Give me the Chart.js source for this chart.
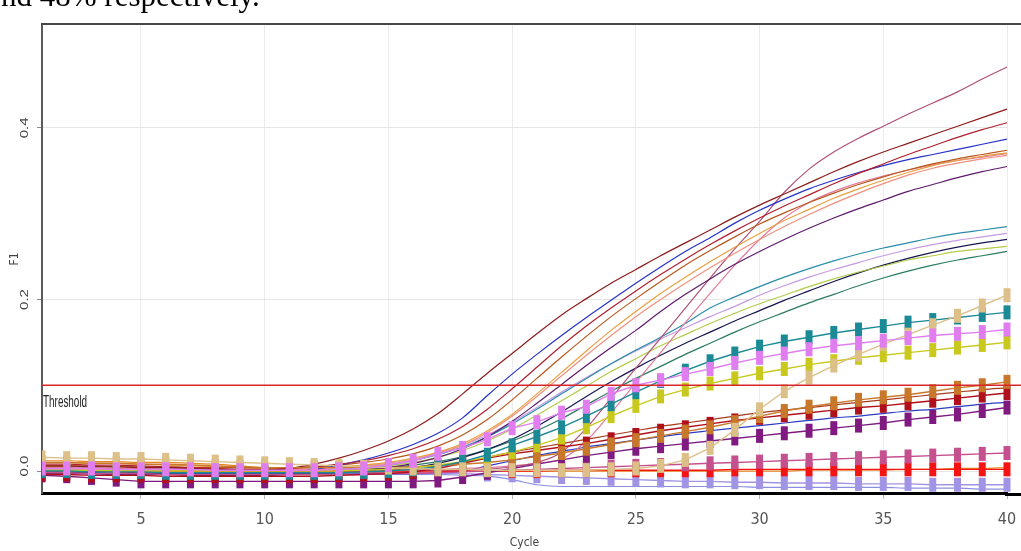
<!DOCTYPE html>
<html>
<head>
<meta charset="utf-8">
<script src="https://cdn.jsdelivr.net/npm/chart.js@4.4.0/dist/chart.umd.min.js"></script>
<style>
  html, body { margin: 0; padding: 0; background: #fff; }
  body { width: 1021px; height: 551px; overflow: hidden; position: relative; }
  .wrap { position: absolute; left: 0; top: 0; width: 1021px; height: 551px; }
  .caption {
    position: absolute; left: 1px; top: -20px;
    font: 31px/31px "Liberation Serif", "Times New Roman", serif;
    color: #000; white-space: nowrap;
  }
</style>
</head>
<body>
<div class="wrap"><canvas id="pcr" width="1021" height="551"></canvas></div>
<div class="caption">nd 48% respectively.</div>
<script>
"use strict";

//////////////////////////////
// Data
const cycles = [1,2,3,4,5,6,7,8,9,10,11,12,13,14,15,16,17,18,19,20,21,22,23,24,25,26,27,28,29,30,31,32,33,34,35,36,37,38,39,40];
const xTicks = [5, 10, 15, 20, 25, 30, 35, 40];
const yTicks = [0, 0.2, 0.4];
const threshold = 0.1;

// marker series (one value per cycle)
const tealMarks = [0.0,0.0,-0.001,-0.001,-0.001,-0.002,-0.002,-0.002,-0.002,-0.002,-0.002,-0.002,-0.002,-0.001,0.0,0.002,0.005,0.011,0.019,0.03,0.04,0.051,0.064,0.078,0.092,0.105,0.117,0.128,0.137,0.145,0.151,0.156,0.161,0.165,0.169,0.173,0.176,0.179,0.182,0.185];
const violetMarks = [0.003,0.003,0.003,0.002,0.002,0.002,0.002,0.001,0.001,0.001,0.001,0.001,0.002,0.003,0.007,0.012,0.02,0.027,0.037,0.05,0.057,0.068,0.075,0.09,0.1,0.106,0.113,0.119,0.126,0.132,0.137,0.142,0.146,0.149,0.152,0.155,0.158,0.16,0.162,0.165];
const yellowMarks = [0.001,0.001,0.001,0.0,0.0,0.0,0.0,0.0,0.0,0.0,0.0,0.0,0.0,0.001,0.002,0.004,0.007,0.011,0.016,0.022,0.03,0.039,0.051,0.064,0.076,0.087,0.095,0.102,0.108,0.114,0.119,0.124,0.128,0.132,0.135,0.138,0.141,0.144,0.147,0.15];
const tanMarks = [0.016,0.015,0.015,0.014,0.014,0.013,0.012,0.011,0.01,0.009,0.008,0.007,0.006,0.005,0.004,0.003,0.002,0.002,0.001,0.001,0.001,0.001,0.001,0.002,0.003,0.006,0.013,0.027,0.048,0.072,0.093,0.109,0.123,0.136,0.148,0.159,0.17,0.181,0.193,0.205];
const darkRedMarks = [-0.004,-0.004,-0.005,-0.005,-0.005,-0.006,-0.006,-0.006,-0.006,-0.006,-0.006,-0.006,-0.005,-0.004,-0.003,-0.001,0.003,0.009,0.015,0.02,0.024,0.028,0.032,0.037,0.042,0.047,0.051,0.055,0.059,0.062,0.065,0.068,0.071,0.074,0.076,0.079,0.082,0.085,0.088,0.091];
const orangeMarks = [0.01,0.01,0.009,0.009,0.008,0.008,0.007,0.006,0.005,0.004,0.004,0.004,0.004,0.004,0.004,0.005,0.006,0.008,0.01,0.013,0.017,0.021,0.026,0.031,0.036,0.041,0.046,0.051,0.057,0.064,0.07,0.075,0.079,0.083,0.086,0.089,0.093,0.097,0.1,0.104];
const purpleMarks = [-0.005,-0.006,-0.008,-0.01,-0.012,-0.012,-0.012,-0.012,-0.012,-0.012,-0.012,-0.012,-0.012,-0.012,-0.012,-0.012,-0.011,-0.007,-0.002,0.003,0.008,0.013,0.018,0.022,0.026,0.029,0.032,0.035,0.038,0.041,0.044,0.047,0.05,0.053,0.056,0.06,0.063,0.066,0.07,0.074];
const mauveMarks = [-0.002,-0.002,-0.003,-0.003,-0.003,-0.004,-0.004,-0.004,-0.004,-0.004,-0.004,-0.004,-0.004,-0.004,-0.003,-0.003,-0.002,-0.001,0.0,0.001,0.002,0.003,0.004,0.005,0.006,0.007,0.008,0.009,0.01,0.011,0.012,0.013,0.014,0.015,0.016,0.017,0.018,0.019,0.02,0.021];
const redMarks = [0.0,0.0,0.0,-0.001,-0.001,-0.001,-0.001,-0.001,-0.001,-0.001,-0.001,-0.001,-0.001,-0.001,-0.001,-0.001,-0.001,0.0,0.0,0.0,0.0,0.001,0.001,0.001,0.001,0.001,0.001,0.001,0.002,0.002,0.002,0.002,0.002,0.002,0.002,0.002,0.002,0.002,0.002,0.002];
const lavenderMarks = [0.001,0.001,0.0,0.0,0.0,0.0,-0.001,-0.001,-0.001,-0.001,-0.001,-0.001,-0.002,-0.002,-0.002,-0.002,-0.003,-0.003,-0.004,-0.005,-0.006,-0.007,-0.008,-0.009,-0.01,-0.011,-0.012,-0.012,-0.013,-0.013,-0.014,-0.014,-0.014,-0.015,-0.015,-0.015,-0.016,-0.016,-0.016,-0.016];

// plain curves (one value per cycle)
const curveA = [0.006,0.006,0.005,0.005,0.004,0.004,0.003,0.002,0.001,0.001,0.003,0.008,0.015,0.024,0.035,0.049,0.067,0.09,0.114,0.137,0.16,0.182,0.201,0.219,0.235,0.251,0.266,0.281,0.296,0.31,0.323,0.336,0.349,0.361,0.372,0.382,0.392,0.402,0.412,0.422];
const curveB = [0.0,0.0,-0.001,-0.001,-0.002,-0.002,-0.003,-0.004,-0.004,-0.004,-0.002,0.002,0.007,0.013,0.021,0.031,0.044,0.062,0.088,0.113,0.136,0.158,0.179,0.199,0.219,0.238,0.256,0.272,0.289,0.304,0.317,0.329,0.339,0.348,0.356,0.363,0.369,0.375,0.381,0.387];
const curveC = [0.008,0.008,0.007,0.007,0.006,0.005,0.004,0.003,0.002,0.002,0.003,0.005,0.008,0.012,0.018,0.026,0.037,0.052,0.072,0.096,0.121,0.146,0.169,0.19,0.21,0.229,0.247,0.264,0.28,0.295,0.309,0.322,0.335,0.347,0.358,0.369,0.379,0.389,0.398,0.406];
const curveD = [0.006,0.006,0.006,0.005,0.005,0.005,0.004,0.004,0.004,0.004,0.004,0.005,0.007,0.01,0.014,0.02,0.029,0.042,0.06,0.083,0.108,0.133,0.157,0.18,0.201,0.221,0.24,0.257,0.273,0.288,0.301,0.313,0.324,0.334,0.343,0.351,0.358,0.364,0.369,0.374];
const curveE = [0.002,0.002,0.002,0.001,0.001,0.001,0.0,0.0,0.0,0.0,0.001,0.002,0.003,0.005,0.008,0.013,0.02,0.03,0.045,0.064,0.087,0.111,0.135,0.158,0.18,0.2,0.219,0.237,0.254,0.27,0.285,0.299,0.312,0.324,0.335,0.345,0.353,0.359,0.364,0.368];
const curveF = [0.01,0.01,0.009,0.009,0.008,0.007,0.006,0.005,0.004,0.003,0.003,0.004,0.005,0.007,0.01,0.015,0.022,0.032,0.047,0.066,0.09,0.115,0.14,0.164,0.186,0.207,0.226,0.244,0.261,0.277,0.292,0.305,0.318,0.329,0.339,0.348,0.356,0.362,0.367,0.371];
const curveG = [-0.003,-0.003,-0.003,-0.004,-0.004,-0.004,-0.005,-0.005,-0.005,-0.005,-0.004,-0.003,-0.002,0.0,0.004,0.009,0.016,0.026,0.04,0.058,0.079,0.101,0.123,0.144,0.164,0.186,0.206,0.224,0.241,0.256,0.27,0.283,0.295,0.306,0.316,0.326,0.334,0.342,0.349,0.355];
const curveH = [0.002,0.002,0.002,0.001,0.001,0.001,0.0,0.0,0.0,0.0,0.0,0.0,0.0,0.0,0.0,0.0,0.001,0.001,0.002,0.005,0.01,0.022,0.05,0.085,0.12,0.155,0.19,0.225,0.259,0.291,0.325,0.352,0.372,0.388,0.402,0.416,0.429,0.442,0.457,0.471];
const curveI = [0.004,0.004,0.003,0.003,0.003,0.002,0.002,0.001,0.001,0.001,0.001,0.001,0.001,0.001,0.001,0.002,0.002,0.003,0.004,0.006,0.009,0.014,0.035,0.068,0.103,0.138,0.173,0.207,0.24,0.27,0.295,0.313,0.326,0.336,0.344,0.351,0.357,0.362,0.366,0.37];
const curveJ = [0.003,0.003,0.002,0.002,0.002,0.001,0.001,0.0,0.0,0.0,0.0,0.001,0.002,0.004,0.007,0.012,0.019,0.028,0.04,0.055,0.072,0.09,0.108,0.125,0.141,0.156,0.172,0.19,0.203,0.215,0.226,0.236,0.245,0.253,0.26,0.266,0.272,0.277,0.281,0.285];
const curveK = [0.004,0.004,0.004,0.003,0.003,0.003,0.002,0.002,0.002,0.002,0.002,0.003,0.004,0.006,0.009,0.014,0.021,0.03,0.042,0.057,0.074,0.092,0.109,0.125,0.14,0.154,0.167,0.18,0.192,0.205,0.216,0.226,0.235,0.243,0.251,0.258,0.264,0.269,0.273,0.277];
const curveL = [0.001,0.001,0.001,0.001,0.0,0.0,0.0,0.0,0.0,0.0,0.0,0.001,0.002,0.003,0.006,0.01,0.016,0.024,0.035,0.049,0.065,0.082,0.099,0.116,0.131,0.146,0.159,0.172,0.184,0.195,0.205,0.215,0.224,0.232,0.239,0.246,0.251,0.256,0.259,0.262];
const curveM = [-0.002,-0.002,-0.002,-0.003,-0.003,-0.003,-0.003,-0.004,-0.004,-0.004,-0.004,-0.003,-0.002,-0.001,0.001,0.004,0.009,0.016,0.025,0.037,0.052,0.069,0.087,0.104,0.12,0.135,0.149,0.162,0.175,0.187,0.199,0.21,0.221,0.231,0.24,0.248,0.255,0.261,0.266,0.27];
const curveN = [0.001,0.001,0.001,0.0,0.0,0.0,0.0,0.0,0.0,0.0,0.0,0.0,0.001,0.002,0.004,0.007,0.011,0.017,0.025,0.035,0.047,0.061,0.077,0.093,0.108,0.122,0.136,0.149,0.162,0.174,0.185,0.196,0.206,0.216,0.225,0.233,0.24,0.246,0.251,0.256];
const lowBlue = [-0.002,-0.002,-0.003,-0.003,-0.003,-0.003,-0.003,-0.003,-0.003,-0.003,-0.003,-0.003,-0.003,-0.003,-0.003,-0.003,-0.002,0.0,0.006,0.012,0.018,0.023,0.028,0.032,0.036,0.04,0.044,0.047,0.05,0.053,0.056,0.059,0.062,0.064,0.067,0.07,0.072,0.075,0.078,0.08];
const lowBrown = [0.005,0.005,0.005,0.005,0.004,0.004,0.004,0.004,0.004,0.004,0.004,0.004,0.004,0.004,0.004,0.005,0.006,0.01,0.016,0.022,0.027,0.032,0.037,0.042,0.047,0.052,0.056,0.06,0.064,0.068,0.071,0.074,0.077,0.08,0.083,0.086,0.089,0.092,0.095,0.097];
const bottomBlue = [-0.003,-0.003,-0.003,-0.003,-0.003,-0.003,-0.003,-0.004,-0.004,-0.004,-0.004,-0.004,-0.004,-0.004,-0.004,-0.004,-0.004,-0.005,-0.006,-0.01,-0.016,-0.018,-0.018,-0.018,-0.018,-0.018,-0.018,-0.018,-0.018,-0.019,-0.019,-0.019,-0.019,-0.019,-0.019,-0.02,-0.02,-0.02,-0.021,-0.021];
const bottomOrange = [0.012,0.012,0.011,0.011,0.01,0.01,0.009,0.008,0.006,0.004,0.003,0.002,0.002,0.001,0.001,0.001,0.001,0.0,0.0,0.0,0.0,0.0,0.0,0.0,0.0,0.0,0.0,0.0,0.0,0.0,0.0,0.001,0.001,0.001,0.001,0.002,0.002,0.003,0.003,0.004];

//////////////////////////////
// Styles
// first in list = drawn on top
const markerSeries = [
  [violetMarks, "#e07ef0"],
  [tanMarks, "#dcc088"],
  [tealMarks, "#1c8a96"],
  [yellowMarks, "#c9c81e"],
  [orangeMarks, "#c8782a"],
  [darkRedMarks, "#b0101c"],
  [purpleMarks, "#7e1a80"],
  [mauveMarks, "#c4508e"],
  [redMarks, "#f51414"],
  [lavenderMarks, "#a294e4"],
];

const lineSeries = [
  [curveA, "#8c1c1c"],
  [curveC, "#b01f2e"],
  [curveB, "#2632c8"],
  [curveD, "#b8561c"],
  [curveF, "#e8a040"],
  [curveE, "#f0907e"],
  [curveG, "#5e1a6c"],
  [curveH, "#b05078"],
  [curveI, "#e27a9a"],
  [curveJ, "#2a8ca8"],
  [curveK, "#c69ae2"],
  [curveL, "#b4cc4a"],
  [curveM, "#16164e"],
  [curveN, "#2a7c5e"],
  [lowBlue, "#2c3cc4"],
  [lowBrown, "#a83a1c"],
  [bottomBlue, "#8a8ee0"],
  [bottomOrange, "#e88420"],
];

const narrow = '"Liberation Sans Narrow", "DejaVu Sans Condensed", sans-serif';
// markers may spill past the last cycle, not past the left axis
const plotClip = { left: 0, top: 0, right: 14, bottom: 0 };

const toPoints = (values) => values.map((v, i) => ({ x: cycles[i], y: v }));

const datasets = [
  ...markerSeries.map(([values, color]) => ({
    data: toPoints(values),
    borderColor: color,
    backgroundColor: color,
    borderWidth: 1.4,
    pointStyle: "line",
    pointRotation: 90,
    pointRadius: 7,
    pointBorderWidth: 7,
    pointBorderColor: color,
    clip: plotClip,
  })),
  ...lineSeries.map(([values, color]) => ({
    data: toPoints(values),
    borderColor: color,
    backgroundColor: color,
    borderWidth: 1.2,
    pointRadius: 0,
    cubicInterpolationMode: "monotone",
    clip: plotClip,
  })),
];

//////////////////////////////
// Extra drawing: threshold, frame lines to the edge, rotated y labels
const decorations = {
  id: "decorations",
  afterDatasetsDraw(chart) {
    const { ctx, chartArea, scales } = chart;
    const yT = scales.y.getPixelForValue(threshold);

    ctx.save();
    ctx.strokeStyle = "#d8262c";
    ctx.lineWidth = 1.6;
    ctx.beginPath();
    ctx.moveTo(chartArea.left, yT);
    ctx.lineTo(chart.width, yT);
    ctx.stroke();

    ctx.translate(chartArea.left + 1, yT + 17);
    ctx.scale(0.62, 1);
    ctx.font = '16px "Liberation Sans", Arial, sans-serif';
    ctx.fillStyle = "#222";
    ctx.textBaseline = "middle";
    ctx.fillText("Threshold", 0, 0);
    ctx.restore();
  },
  afterDraw(chart) {
    const { ctx, chartArea, scales } = chart;
    ctx.save();
    ctx.strokeStyle = "#474747";
    ctx.lineWidth = 2;
    ctx.beginPath();
    ctx.moveTo(chartArea.left - 1, chartArea.top - 1);
    ctx.lineTo(chart.width, chartArea.top - 1);
    ctx.stroke();

    ctx.strokeStyle = "#000";
    ctx.lineWidth = 3;
    ctx.beginPath();
    ctx.moveTo(chartArea.right - 2, scales.x.top + 1.5);
    ctx.lineTo(chart.width, scales.x.top + 1.5);
    ctx.stroke();
    ctx.restore();

    yTicks.forEach((v) => {
      // the bottom label sits a little above its tick, as in the source plot
      const y = scales.y.getPixelForValue(v) - (v === 0 ? 5 : 0);
      ctx.save();
      ctx.translate(25, y);
      ctx.rotate(-Math.PI / 2);
      ctx.scale(1, 0.75);
      ctx.font = '15px "Liberation Sans", Arial, sans-serif';
      ctx.fillStyle = "#444";
      ctx.textAlign = "center";
      ctx.textBaseline = "middle";
      ctx.fillText(v.toFixed(1), 0, 0);
      ctx.restore();
    });
  },
};

//////////////////////////////
// Chart
new Chart(document.getElementById("pcr"), {
  type: "line",
  data: { datasets },
  plugins: [decorations],
  options: {
    responsive: false,
    animation: false,
    events: [],
    layout: { padding: { top: 25, left: 0, right: 0, bottom: 0 } },
    plugins: { legend: { display: false }, tooltip: { enabled: false } },
    scales: {
      x: {
        type: "linear",
        min: 1,
        max: 40,
        afterBuildTicks: (scale) => {
          scale.ticks = xTicks.map((v) => ({ value: v }));
        },
        afterFit: (scale) => {
          scale.height = 58;
        },
        grid: { color: "#ececec", tickColor: "#b5b5b5", tickLength: 6 },
        border: { color: "#000", width: 3 },
        ticks: {
          padding: 0,
          color: "#555",
          font: { family: narrow, size: 16, lineHeight: 2.6 },
          callback: (v) => String(v),
        },
        title: {
          display: true,
          text: "Cycle",
          color: "#444",
          font: { family: narrow, size: 12 },
          padding: { top: 0, bottom: 1 },
        },
      },
      y: {
        type: "linear",
        min: -0.0256,
        max: 0.52,
        afterBuildTicks: (scale) => {
          scale.ticks = yTicks.map((v) => ({ value: v }));
        },
        afterFit: (scale) => {
          scale.width = 42;
        },
        grid: { color: "#e6e6e6", tickColor: "#888", tickLength: 5 },
        border: { color: "#5a5a5a", width: 2 },
        ticks: { display: false },
        title: {
          display: true,
          text: "F1",
          color: "#444",
          font: { family: narrow, size: 12 },
          padding: { top: 8, bottom: 0 },
        },
      },
    },
  },
});
</script>
</body>
</html>
